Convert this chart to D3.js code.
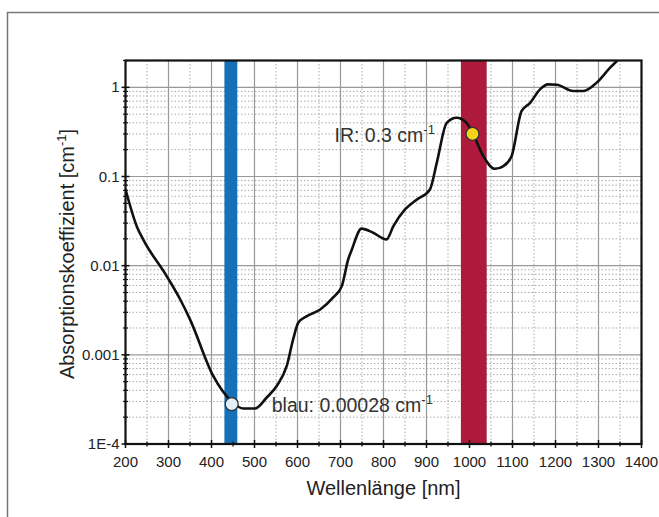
<!DOCTYPE html>
<html>
<head>
<meta charset="utf-8">
<script src="https://cdn.jsdelivr.net/npm/d3@7"></script>
<style>
  body { margin: 0; background: #fff; }
  svg { display: block; font-family: "Liberation Sans", Arial, sans-serif; }
  .tick-label { font-size: 15px; fill: #222; }
  .axis-title { font-size: 20px; fill: #222; }
  .note { font-size: 19.5px; fill: #333; }
</style>
</head>
<body>
<svg id="chart" width="659" height="517"></svg>
<script>
// wavelength [nm] and absorption coefficient [1/cm]
var wavelength = [200, 227, 241, 296, 327, 350, 404, 447, 474, 501, 528, 552, 575, 590, 602, 621, 652, 683, 703, 718, 726, 749, 776, 807, 823, 850, 877, 908, 924, 947, 970, 993, 1007, 1032, 1059, 1079, 1098, 1121, 1141, 1164, 1183, 1203, 1241, 1265, 1296, 1327, 1344];
var absorption = [0.072, 0.027, 0.0197, 0.0076, 0.0042, 0.0025, 0.00058, 0.0003, 0.00025, 0.00025, 0.00033, 0.00045, 0.00075, 0.0015, 0.0023, 0.0027, 0.0032, 0.0044, 0.0059, 0.0118, 0.015, 0.026, 0.0234, 0.0197, 0.0278, 0.0427, 0.055, 0.0716, 0.143, 0.40, 0.456, 0.40, 0.31, 0.17, 0.122, 0.131, 0.17, 0.54, 0.67, 0.95, 1.08, 1.07, 0.91, 0.91, 1.13, 1.66, 2.0];

var xTicks = [200, 300, 400, 500, 600, 700, 800, 900, 1000, 1100, 1200, 1300, 1400];
var yTicks = [1e-4, 0.001, 0.01, 0.1, 1];
var yTickLabels = ["1E-4", "0.001", "0.01", "0.1", "1"];

var bands = [
  { from: 430, to: 460, color: "#1570b8" },
  { from: 980, to: 1040, color: "#ae1a3c" }
];
var markers = [
  { x: 447, y: 0.00028, fill: "#e3eef7", label: "blau: 0.00028 cm", dx: 40, dy: 8 },
  { x: 1007, y: 0.3, fill: "#f7d21a", label: "IR: 0.3 cm", dx: -138, dy: 8 }
];

(function () {
  var svg = d3.select("#chart");
  var pLeft = 125.5, pRight = 641.5, pTop = 60.5, pBottom = 444;

  // outer frame
  svg.append("rect")
    .attr("x", 7.5).attr("y", 12.5)
    .attr("width", 700).attr("height", 600)
    .attr("fill", "none").attr("stroke", "#777").attr("stroke-width", 1.5);

  var x = d3.scaleLinear().domain([200, 1400]).range([pLeft, pRight]);
  var y = d3.scaleLog().domain([1e-4, 2]).range([pBottom, pTop]);

  var grid = svg.append("g");

  // minor grid
  var minorX = d3.range(250, 1400, 100);
  grid.selectAll("line.mx").data(minorX).enter().append("line")
    .attr("x1", x).attr("x2", x).attr("y1", pTop).attr("y2", pBottom)
    .attr("stroke", "#aaa").attr("stroke-width", 1).attr("stroke-dasharray", "1.5,2");

  var minorY = [];
  yTicks.forEach(function (t) {
    for (var k = 2; k <= 9; k++) {
      if (t * k <= 2) minorY.push(t * k);
    }
  });
  grid.selectAll("line.my").data(minorY).enter().append("line")
    .attr("x1", pLeft).attr("x2", pRight).attr("y1", y).attr("y2", y)
    .attr("stroke", "#aaa").attr("stroke-width", 1).attr("stroke-dasharray", "1.5,2");

  // major grid
  grid.selectAll("line.gx").data(xTicks.slice(1, -1)).enter().append("line")
    .attr("x1", x).attr("x2", x).attr("y1", pTop).attr("y2", pBottom)
    .attr("stroke", "#999").attr("stroke-width", 1.2);
  grid.selectAll("line.gy").data(yTicks.slice(1)).enter().append("line")
    .attr("x1", pLeft).attr("x2", pRight).attr("y1", y).attr("y2", y)
    .attr("stroke", "#999").attr("stroke-width", 1.2);

  // bands
  svg.selectAll("rect.band").data(bands).enter().append("rect")
    .attr("x", function (d) { return x(d.from); })
    .attr("width", function (d) { return x(d.to) - x(d.from); })
    .attr("y", pTop).attr("height", pBottom - pTop)
    .attr("fill", function (d) { return d.color; });

  // curve
  svg.append("clipPath").attr("id", "clip")
    .append("rect").attr("x", pLeft).attr("y", pTop).attr("width", pRight - pLeft).attr("height", pBottom - pTop);

  var line = d3.line()
    .x(function (d, i) { return x(wavelength[i]); })
    .y(function (d) { return y(d); })
    .curve(d3.curveMonotoneX);

  svg.append("path")
    .datum(absorption)
    .attr("clip-path", "url(#clip)")
    .attr("d", line)
    .attr("fill", "none").attr("stroke", "#111").attr("stroke-width", 2.6)
    .attr("stroke-linejoin", "round");

  // plot frame
  svg.append("rect")
    .attr("x", pLeft).attr("y", pTop).attr("width", pRight - pLeft).attr("height", pBottom - pTop)
    .attr("fill", "none").attr("stroke", "#111").attr("stroke-width", 2.2);

  // x axis ticks
  var xAxis = svg.append("g");
  xAxis.selectAll("line.t").data(xTicks).enter().append("line")
    .attr("x1", x).attr("x2", x).attr("y1", pBottom - 4).attr("y2", pBottom + 4)
    .attr("stroke", "#111").attr("stroke-width", 1.5);
  xAxis.selectAll("line.m").data(minorX).enter().append("line")
    .attr("x1", x).attr("x2", x).attr("y1", pBottom - 2.5).attr("y2", pBottom + 2.5)
    .attr("stroke", "#111").attr("stroke-width", 1.3);
  xAxis.selectAll("text").data(xTicks).enter().append("text")
    .attr("class", "tick-label")
    .attr("x", x).attr("y", pBottom + 22.5)
    .attr("text-anchor", "middle")
    .text(function (d) { return d; });

  // y axis ticks
  var yAxis = svg.append("g");
  yAxis.selectAll("line.t").data(yTicks).enter().append("line")
    .attr("x1", pLeft - 4).attr("x2", pLeft + 4).attr("y1", y).attr("y2", y)
    .attr("stroke", "#111").attr("stroke-width", 1.5);
  yAxis.selectAll("line.m").data(minorY).enter().append("line")
    .attr("x1", pLeft - 2.5).attr("x2", pLeft + 2.5).attr("y1", y).attr("y2", y)
    .attr("stroke", "#111").attr("stroke-width", 1.2);
  yAxis.selectAll("text").data(yTicks).enter().append("text")
    .attr("class", "tick-label")
    .attr("x", pLeft - 6).attr("y", function (d) { return y(d) + 5; })
    .attr("text-anchor", "end")
    .text(function (d, i) { return yTickLabels[i]; });

  // axis titles
  svg.append("text").attr("class", "axis-title")
    .attr("x", (pLeft + pRight) / 2).attr("y", 495)
    .attr("text-anchor", "middle")
    .text("Wellenlänge [nm]");

  var yt = svg.append("text").attr("class", "axis-title")
    .attr("transform", "translate(74,254) rotate(-90)")
    .attr("text-anchor", "middle");
  yt.append("tspan").text("Absorptionskoeffizient [cm");
  yt.append("tspan").attr("dy", -8).attr("font-size", 13).text("-1");
  yt.append("tspan").attr("dy", 8).text("]");

  // markers and notes
  markers.forEach(function (m) {
    svg.append("circle")
      .attr("cx", x(m.x)).attr("cy", y(m.y)).attr("r", 6.5)
      .attr("fill", m.fill).attr("stroke", "#333").attr("stroke-width", 1.3);
    var t = svg.append("text").attr("class", "note")
      .attr("x", x(m.x) + m.dx).attr("y", y(m.y) + m.dy);
    t.append("tspan").text(m.label);
    t.append("tspan").attr("dy", -8).attr("font-size", 13).text("-1");
  });
})();
</script>
</body>
</html>
